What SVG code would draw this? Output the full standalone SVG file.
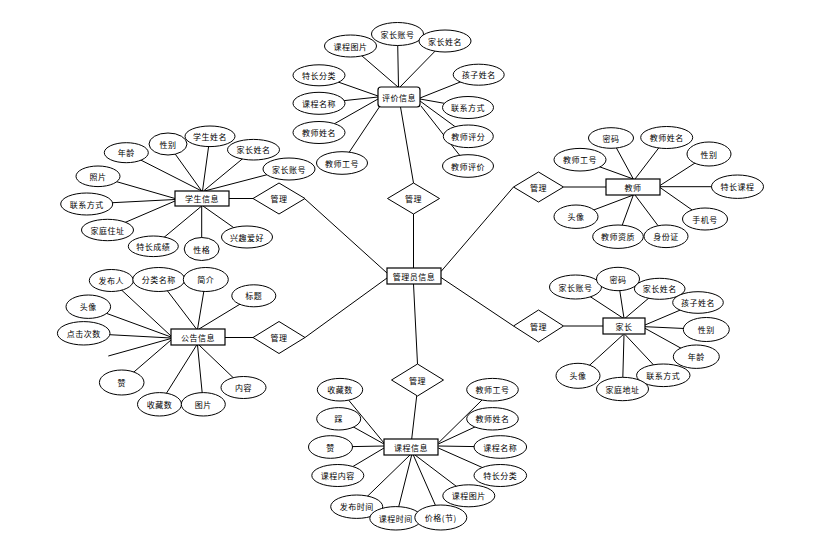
<svg xmlns="http://www.w3.org/2000/svg" width="835" height="539" viewBox="0 0 835 539">
<style>
.e{fill:#fff;stroke:#000;stroke-width:1}
.r{fill:#fff;stroke:#000;stroke-width:1.2}
.d{fill:#fff;stroke:#000;stroke-width:1}
.l{stroke:#000;stroke-width:1;fill:none}
text{font-family:"Noto Sans CJK SC","Noto Sans CJK JP",sans-serif;font-size:8px;letter-spacing:0.5px;text-anchor:middle;dominant-baseline:central;fill:#000}
</style>
<rect width="835" height="539" fill="#fff"/>
<g id="connectors">
<!-- center -->
<line class="l" x1="413.5" y1="214" x2="413.5" y2="268"/>
<line class="l" x1="304.5" y1="198.5" x2="387" y2="273"/>
<line class="l" x1="305" y1="337.5" x2="387" y2="278"/>
<line class="l" x1="441" y1="271.5" x2="513.5" y2="187"/>
<line class="l" x1="441" y1="277.5" x2="513.5" y2="326"/>
<line class="l" x1="413.5" y1="284" x2="417.5" y2="364"/>
<line class="l" x1="400.5" y1="107" x2="413.5" y2="183"/>
<!-- top cluster -->
<line class="l" x1="350.5" y1="46" x2="398" y2="87"/>
<line class="l" x1="397.5" y1="34" x2="398.5" y2="87"/>
<line class="l" x1="445" y1="41" x2="400" y2="87"/>
<line class="l" x1="478.7" y1="74.7" x2="420" y2="98"/>
<line class="l" x1="468" y1="107.5" x2="420" y2="99"/>
<line class="l" x1="468.3" y1="136.3" x2="420" y2="101"/>
<line class="l" x1="468" y1="166" x2="421" y2="106"/>
<line class="l" x1="319" y1="75.3" x2="378" y2="96"/>
<line class="l" x1="319" y1="103.3" x2="378" y2="97"/>
<line class="l" x1="319" y1="132.5" x2="378" y2="99"/>
<line class="l" x1="342" y1="163" x2="380" y2="106"/>
<!-- student -->
<line class="l" x1="126.3" y1="152.7" x2="201.7" y2="191"/>
<line class="l" x1="168" y1="144" x2="201.7" y2="191"/>
<line class="l" x1="210" y1="136.3" x2="202.5" y2="191"/>
<line class="l" x1="253.5" y1="149.7" x2="203.5" y2="191"/>
<line class="l" x1="289" y1="169" x2="204.5" y2="191"/>
<line class="l" x1="98" y1="176.3" x2="175" y2="198.5"/>
<line class="l" x1="86.7" y1="204" x2="175" y2="199.5"/>
<line class="l" x1="107.5" y1="230" x2="175" y2="201"/>
<line class="l" x1="153.3" y1="246.3" x2="201.7" y2="206"/>
<line class="l" x1="201.7" y1="249" x2="201.7" y2="206"/>
<line class="l" x1="247" y1="237" x2="203" y2="206"/>
<line class="l" x1="229" y1="198.5" x2="253" y2="198.5"/>
<!-- teacher -->
<line class="l" x1="611" y1="138" x2="633.3" y2="179"/>
<line class="l" x1="666.7" y1="137.5" x2="635" y2="179"/>
<line class="l" x1="580" y1="159.7" x2="633.3" y2="179"/>
<line class="l" x1="709" y1="154" x2="660" y2="185.5"/>
<line class="l" x1="737.5" y1="186.7" x2="660" y2="186.7"/>
<line class="l" x1="705" y1="219" x2="660" y2="187.5"/>
<line class="l" x1="666" y1="236.3" x2="635" y2="195"/>
<line class="l" x1="618" y1="236.7" x2="633.3" y2="195"/>
<line class="l" x1="576" y1="216.7" x2="633.3" y2="195"/>
<line class="l" x1="563.5" y1="187" x2="606" y2="187"/>
<!-- announcement -->
<line class="l" x1="111.3" y1="280.5" x2="171" y2="336"/>
<line class="l" x1="158.8" y1="279.5" x2="196.7" y2="329.3"/>
<line class="l" x1="205.8" y1="279.5" x2="197.5" y2="329.3"/>
<line class="l" x1="253.8" y1="295.8" x2="198.5" y2="329.3"/>
<line class="l" x1="88.3" y1="306.7" x2="171" y2="337"/>
<line class="l" x1="83.7" y1="333.3" x2="171" y2="338"/>
<line class="l" x1="108.3" y1="356" x2="171" y2="338.5"/>
<line class="l" x1="121.7" y1="382.5" x2="171" y2="340"/>
<line class="l" x1="159.5" y1="404.3" x2="196.7" y2="345"/>
<line class="l" x1="203.3" y1="404.3" x2="197.5" y2="345"/>
<line class="l" x1="243.5" y1="387.5" x2="199" y2="345"/>
<line class="l" x1="225" y1="337.5" x2="253" y2="337.5"/>
<!-- parent -->
<line class="l" x1="575.5" y1="287" x2="623.3" y2="318.3"/>
<line class="l" x1="618" y1="279" x2="624" y2="318.3"/>
<line class="l" x1="659.7" y1="288.8" x2="625" y2="318.3"/>
<line class="l" x1="698" y1="302.5" x2="645" y2="325"/>
<line class="l" x1="706.3" y1="329.5" x2="645" y2="326.7"/>
<line class="l" x1="696.3" y1="356.7" x2="645" y2="328.3"/>
<line class="l" x1="663.3" y1="375.3" x2="625" y2="334.5"/>
<line class="l" x1="622.5" y1="389" x2="624" y2="334.5"/>
<line class="l" x1="578" y1="375.8" x2="623.3" y2="334.5"/>
<line class="l" x1="563.5" y1="326" x2="603" y2="326"/>
<!-- course -->
<line class="l" x1="416.7" y1="396" x2="411.7" y2="439"/>
<line class="l" x1="340" y1="389.7" x2="384" y2="443"/>
<line class="l" x1="338.7" y1="418.8" x2="384" y2="444"/>
<line class="l" x1="330.5" y1="447" x2="384" y2="446"/>
<line class="l" x1="337.8" y1="475.5" x2="384" y2="448"/>
<line class="l" x1="356.7" y1="506.7" x2="410" y2="455"/>
<line class="l" x1="395.8" y1="518.3" x2="411.7" y2="455"/>
<line class="l" x1="440.8" y1="517.5" x2="413.3" y2="455"/>
<line class="l" x1="468.8" y1="495.8" x2="415" y2="455"/>
<line class="l" x1="500.3" y1="475.5" x2="438.3" y2="448"/>
<line class="l" x1="500.3" y1="447" x2="438.3" y2="446"/>
<line class="l" x1="492.5" y1="418.8" x2="438.3" y2="444"/>
<line class="l" x1="492.5" y1="389.7" x2="438.3" y2="443"/>
</g>
<!-- center -->
<g id="admin"><rect class="r" x="387" y="268" width="54" height="16"/><text x="414" y="276">管理员信息</text></g>
<g id="rel-top"><polygon class="d" points="413.5,183 439.5,198.5 413.5,214 387.5,198.5"/><text x="413.5" y="198.5">管理</text></g>
<g id="rel-student"><polygon class="d" points="279,183 305,198.5 279,214 253,198.5"/><text x="279" y="198.5">管理</text></g>
<g id="rel-notice"><polygon class="d" points="279,321.5 305,337.5 279,353.5 253,337.5"/><text x="279" y="337.5">管理</text></g>
<g id="rel-teacher"><polygon class="d" points="538.5,172 563.5,187 538.5,202 513.5,187"/><text x="538.5" y="187">管理</text></g>
<g id="rel-parent"><polygon class="d" points="538.5,310 563.5,326 538.5,342 513.5,326"/><text x="538.5" y="326">管理</text></g>
<g id="rel-course"><polygon class="d" points="417.5,364 443.5,380 417.5,396 391.5,380"/><text x="417.5" y="380">管理</text></g>
<!-- evaluation -->
<g id="eval"><rect class="r" x="378" y="87" width="42" height="20" rx="3"/><text x="399" y="97">评价信息</text></g>
<g id="ev1"><ellipse class="e" cx="350.5" cy="46" rx="26" ry="11"/><text x="350.5" y="46">课程图片</text></g>
<g id="ev2"><ellipse class="e" cx="397.5" cy="34" rx="26" ry="11.5"/><text x="397.5" y="34">家长账号</text></g>
<g id="ev3"><ellipse class="e" cx="445" cy="41" rx="26" ry="11"/><text x="445" y="41">家长姓名</text></g>
<g id="ev4"><ellipse class="e" cx="478.7" cy="74.7" rx="25.5" ry="10.5"/><text x="478.7" y="74.7">孩子姓名</text></g>
<g id="ev5"><ellipse class="e" cx="468" cy="107.5" rx="25.5" ry="11"/><text x="468" y="107.5">联系方式</text></g>
<g id="ev6"><ellipse class="e" cx="468.3" cy="136.3" rx="25" ry="11.3"/><text x="468.3" y="136.3">教师评分</text></g>
<g id="ev7"><ellipse class="e" cx="468" cy="166" rx="25.5" ry="11.3"/><text x="468" y="166">教师评价</text></g>
<g id="ev8"><ellipse class="e" cx="319" cy="75.3" rx="26" ry="10.5"/><text x="319" y="75.3">特长分类</text></g>
<g id="ev9"><ellipse class="e" cx="319" cy="103.3" rx="26" ry="11"/><text x="319" y="103.3">课程名称</text></g>
<g id="ev10"><ellipse class="e" cx="319" cy="132.5" rx="26" ry="11"/><text x="319" y="132.5">教师姓名</text></g>
<g id="ev11"><ellipse class="e" cx="342" cy="163" rx="25.5" ry="11.3"/><text x="342" y="163">教师工号</text></g>
<!-- student -->
<g id="student"><rect class="r" x="175" y="191" width="54" height="15"/><text x="202" y="198.5">学生信息</text></g>
<g id="st1"><ellipse class="e" cx="126.3" cy="152.7" rx="22" ry="10"/><text x="126.3" y="152.7">年龄</text></g>
<g id="st2"><ellipse class="e" cx="168" cy="144" rx="19" ry="11"/><text x="168" y="144">性别</text></g>
<g id="st3"><ellipse class="e" cx="210" cy="136.3" rx="25" ry="10.3"/><text x="210" y="136.3">学生姓名</text></g>
<g id="st4"><ellipse class="e" cx="253.5" cy="149.7" rx="26" ry="10.3"/><text x="253.5" y="149.7">家长姓名</text></g>
<g id="st5"><ellipse class="e" cx="289" cy="169" rx="26" ry="11"/><text x="289" y="169">家长账号</text></g>
<g id="st6"><ellipse class="e" cx="98" cy="176.3" rx="22" ry="10.3"/><text x="98" y="176.3">照片</text></g>
<g id="st7"><ellipse class="e" cx="86.7" cy="204" rx="26" ry="11"/><text x="86.7" y="204">联系方式</text></g>
<g id="st8"><ellipse class="e" cx="107.5" cy="230" rx="26" ry="10.7"/><text x="107.5" y="230">家庭住址</text></g>
<g id="st9"><ellipse class="e" cx="153.3" cy="246.3" rx="25" ry="10.3"/><text x="153.3" y="246.3">特长成绩</text></g>
<g id="st10"><ellipse class="e" cx="201.7" cy="249" rx="17.5" ry="11.5"/><text x="201.7" y="249">性格</text></g>
<g id="st11"><ellipse class="e" cx="247" cy="237" rx="25.5" ry="11"/><text x="247" y="237">兴趣爱好</text></g>
<!-- teacher -->
<g id="teacher"><rect class="r" x="606" y="179" width="54" height="16"/><text x="633" y="187">教师</text></g>
<g id="te1"><ellipse class="e" cx="611" cy="138" rx="22.5" ry="10.3"/><text x="611" y="138">密码</text></g>
<g id="te2"><ellipse class="e" cx="666.7" cy="137.5" rx="26" ry="11"/><text x="666.7" y="137.5">教师姓名</text></g>
<g id="te3"><ellipse class="e" cx="580" cy="159.7" rx="26" ry="11.3"/><text x="580" y="159.7">教师工号</text></g>
<g id="te4"><ellipse class="e" cx="709" cy="154" rx="22" ry="12"/><text x="709" y="154">性别</text></g>
<g id="te5"><ellipse class="e" cx="737.5" cy="186.7" rx="26" ry="11.7"/><text x="737.5" y="186.7">特长课程</text></g>
<g id="te6"><ellipse class="e" cx="705" cy="219" rx="22.5" ry="11"/><text x="705" y="219">手机号</text></g>
<g id="te7"><ellipse class="e" cx="666" cy="236.3" rx="22" ry="11.3"/><text x="666" y="236.3">身份证</text></g>
<g id="te8"><ellipse class="e" cx="618" cy="236.7" rx="25.3" ry="11.7"/><text x="618" y="236.7">教师资质</text></g>
<g id="te9"><ellipse class="e" cx="576" cy="216.7" rx="22" ry="11.7"/><text x="576" y="216.7">头像</text></g>
<!-- notice -->
<g id="notice"><rect class="r" x="171" y="329" width="54" height="16"/><text x="198" y="337">公告信息</text></g>
<g id="no1"><ellipse class="e" cx="111.3" cy="280.5" rx="22" ry="11"/><text x="111.3" y="280.5">发布人</text></g>
<g id="no2"><ellipse class="e" cx="158.8" cy="279.5" rx="26" ry="12"/><text x="158.8" y="279.5">分类名称</text></g>
<g id="no3"><ellipse class="e" cx="205.8" cy="279.5" rx="22.5" ry="12"/><text x="205.8" y="279.5">简介</text></g>
<g id="no4"><ellipse class="e" cx="253.8" cy="295.8" rx="22" ry="11"/><text x="253.8" y="295.8">标题</text></g>
<g id="no5"><ellipse class="e" cx="88.3" cy="306.7" rx="22.3" ry="11.7"/><text x="88.3" y="306.7">头像</text></g>
<g id="no6"><ellipse class="e" cx="83.7" cy="333.3" rx="26.3" ry="11.7"/><text x="83.7" y="333.3">点击次数</text></g>
<g id="no7"><ellipse class="e" cx="121.7" cy="382.5" rx="22.3" ry="12.5"/><text x="121.7" y="382.5">赞</text></g>
<g id="no8"><ellipse class="e" cx="159.5" cy="404.3" rx="22" ry="11.7"/><text x="159.5" y="404.3">收藏数</text></g>
<g id="no9"><ellipse class="e" cx="203.3" cy="404.3" rx="22" ry="11.7"/><text x="203.3" y="404.3">图片</text></g>
<g id="no10"><ellipse class="e" cx="243.5" cy="387.5" rx="22.5" ry="11"/><text x="243.5" y="387.5">内容</text></g>
<!-- parent -->
<g id="parent"><rect class="r" x="603" y="318" width="42" height="16"/><text x="624" y="326">家长</text></g>
<g id="pa1"><ellipse class="e" cx="575.5" cy="287" rx="26" ry="12"/><text x="575.5" y="287">家长账号</text></g>
<g id="pa2"><ellipse class="e" cx="618" cy="279" rx="21.5" ry="11.7"/><text x="618" y="279">密码</text></g>
<g id="pa3"><ellipse class="e" cx="659.7" cy="288.8" rx="25.3" ry="10.5"/><text x="659.7" y="288.8">家长姓名</text></g>
<g id="pa4"><ellipse class="e" cx="698" cy="302.5" rx="25.3" ry="10.8"/><text x="698" y="302.5">孩子姓名</text></g>
<g id="pa5"><ellipse class="e" cx="706.3" cy="329.5" rx="23" ry="12"/><text x="706.3" y="329.5">性别</text></g>
<g id="pa6"><ellipse class="e" cx="696.3" cy="356.7" rx="23" ry="11.7"/><text x="696.3" y="356.7">年龄</text></g>
<g id="pa7"><ellipse class="e" cx="663.3" cy="375.3" rx="26.7" ry="11.3"/><text x="663.3" y="375.3">联系方式</text></g>
<g id="pa8"><ellipse class="e" cx="622.5" cy="389" rx="26" ry="11.7"/><text x="622.5" y="389">家庭地址</text></g>
<g id="pa9"><ellipse class="e" cx="578" cy="375.8" rx="22" ry="12.5"/><text x="578" y="375.8">头像</text></g>
<!-- course -->
<g id="course"><rect class="r" x="384" y="439" width="54" height="16"/><text x="411" y="447">课程信息</text></g>
<g id="co1"><ellipse class="e" cx="340" cy="389.7" rx="22.7" ry="11.3"/><text x="340" y="389.7">收藏数</text></g>
<g id="co2"><ellipse class="e" cx="338.7" cy="418.8" rx="22" ry="11.2"/><text x="338.7" y="418.8">踩</text></g>
<g id="co3"><ellipse class="e" cx="330.5" cy="447" rx="22" ry="11.3"/><text x="330.5" y="447">赞</text></g>
<g id="co4"><ellipse class="e" cx="337.8" cy="475.5" rx="26" ry="11"/><text x="337.8" y="475.5">课程内容</text></g>
<g id="co5"><ellipse class="e" cx="356.7" cy="506.7" rx="26" ry="11.7"/><text x="356.7" y="506.7">发布时间</text></g>
<g id="co6"><ellipse class="e" cx="395.8" cy="518.3" rx="26" ry="11.7"/><text x="395.8" y="518.3">课程时间</text></g>
<g id="co7"><ellipse class="e" cx="440.8" cy="517.5" rx="26" ry="12.5"/><text x="440.8" y="517.5">价格(节)</text></g>
<g id="co8"><ellipse class="e" cx="468.8" cy="495.8" rx="26" ry="11"/><text x="468.8" y="495.8">课程图片</text></g>
<g id="co9"><ellipse class="e" cx="500.3" cy="475.5" rx="26.3" ry="11"/><text x="500.3" y="475.5">特长分类</text></g>
<g id="co10"><ellipse class="e" cx="500.3" cy="447" rx="26.3" ry="11.3"/><text x="500.3" y="447">课程名称</text></g>
<g id="co11"><ellipse class="e" cx="492.5" cy="418.8" rx="25.8" ry="11.2"/><text x="492.5" y="418.8">教师姓名</text></g>
<g id="co12"><ellipse class="e" cx="492.5" cy="389.7" rx="25.8" ry="11.3"/><text x="492.5" y="389.7">教师工号</text></g>
</svg>
